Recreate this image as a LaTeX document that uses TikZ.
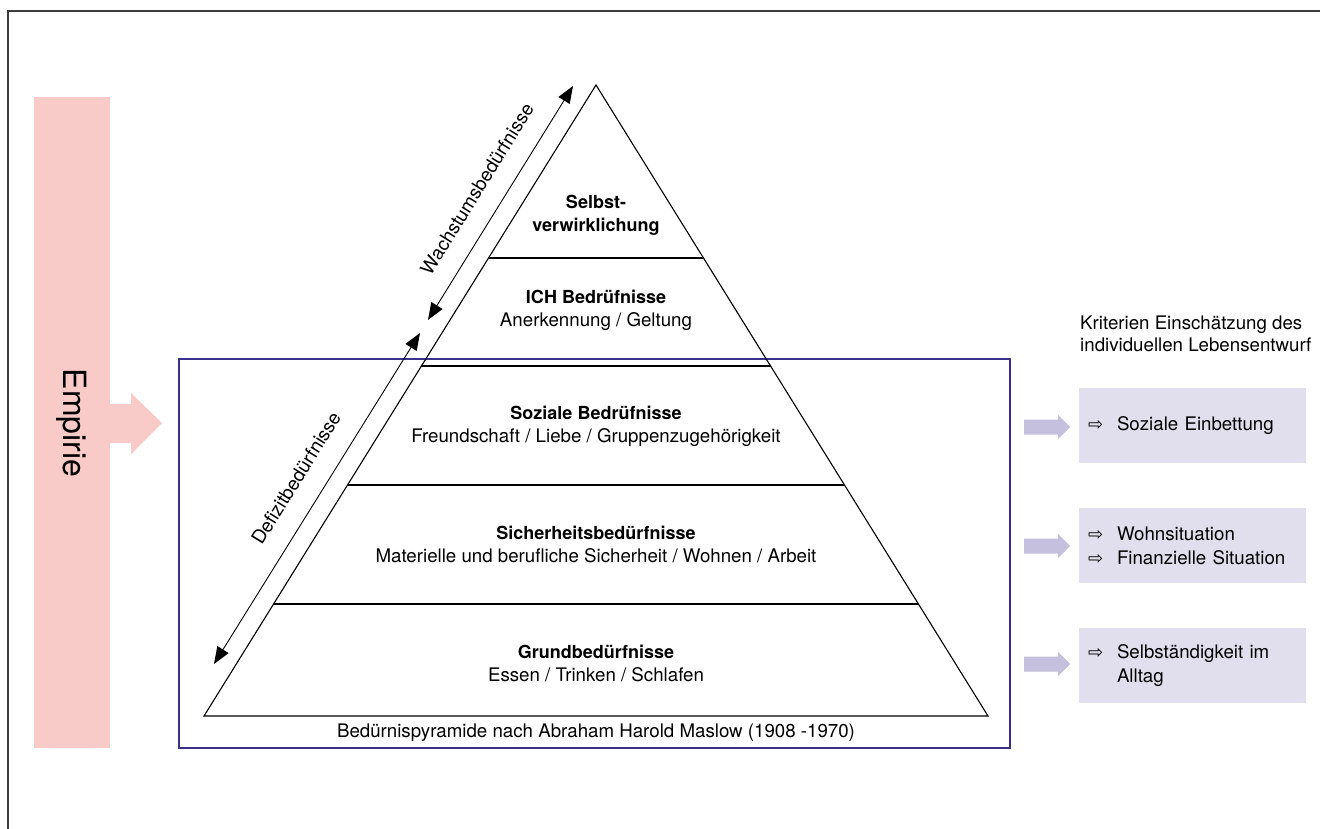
\documentclass[tikz,border=0pt]{standalone}
\usepackage{fontspec}
\setmainfont{TeX Gyre Heros}
\newfontfamily\symfont{DejaVu Sans}
\usetikzlibrary{arrows.meta,calc}
\definecolor{boxblue}{RGB}{59,47,140}
\definecolor{empink}{RGB}{248,203,200}
\definecolor{lav}{RGB}{225,223,237}
\definecolor{lavarrow}{RGB}{196,192,222}
\definecolor{framegray}{RGB}{60,60,60}
\newcommand\lvlhead[1]{{\fontsize{18}{23}\selectfont\bfseries #1}}
\newcommand\critarr{\makebox[29pt][l]{\symfont\fontsize{18}{18}\selectfont ⇨}}
\begin{document}
\begin{tikzpicture}[x=1pt,y=-1pt,
  lvl/.style={align=center, font=\fontsize{18.7}{23}\selectfont, inner sep=0pt},
  side/.style={align=left, font=\fontsize{18.7}{22}\selectfont, inner sep=0pt},
  critbox/.style={fill=lav, minimum width=227pt, minimum height=75pt, text width=209pt,
    align=left, inner xsep=9pt, inner ysep=0pt, font=\fontsize{18.7}{24}\selectfont},
  diaglabel/.style={rotate=58.2, font=\fontsize{19}{22}\selectfont, inner sep=0pt},
  dblarrow/.style={line width=0.9pt, {Triangle[length=17pt,width=13pt]}-{Triangle[length=17pt,width=13pt]}},
  pyr/.style={line width=1.1pt},
  fatarr/.pic={\fill[lavarrow] (0,-7.5) -- (34,-7.5) -- (34,-12) -- (46,0) -- (34,12) -- (34,7.5) -- (0,7.5) -- cycle;}
]
\useasboundingbox (0,0) rectangle (1320,829);
\fill[white] (0,0) rectangle (1320,829);
% frame
\draw[framegray, line width=2pt] (8,829) -- (8,11) -- (1320,11);
% Empirie bar and arrow
\fill[empink] (34,97) rectangle (110,748);
\fill[empink] (110,404) -- (131,404) -- (131,393) -- (162,423) -- (131,454) -- (131,443) -- (110,443) -- cycle;
\node[rotate=-90, font=\fontsize{32}{32}\selectfont, inner sep=0pt] (emp) at (72,423) {Empirie};
% blue box
\draw[boxblue, line width=2pt] (179,359) rectangle (1010,748);
% pyramid
\coordinate (A) at (596,85);
\coordinate (BL) at (204,716);
\coordinate (BR) at (988,716);
\draw[pyr] (A) -- (BL) -- (BR) -- cycle;
\foreach \t in {0.2742,0.4453,0.6339,0.8225}{
  \draw[pyr] ($(A)!\t!(BL)$) -- ($(A)!\t!(BR)$);
}
\node[lvl] (l5) at (596,215) {\lvlhead{Selbst-}\\\lvlhead{verwirklichung}};
\node[lvl] (l4) at (596,310) {\lvlhead{ICH Bedrüfnisse}\\Anerkennung / Geltung};
\node[lvl] (l3) at (596,426) {\lvlhead{Soziale Bedrüfnisse}\\Freundschaft / Liebe / Gruppenzugehörigkeit};
\node[lvl] (l2) at (596,544.5) {\lvlhead{Sicherheitsbedürfnisse}\\Materielle und berufliche Sicherheit / Wohnen / Arbeit};
\node[lvl] (l1) at (596,663.5) {\lvlhead{Grundbedürfnisse}\\Essen / Trinken / Schlafen};
\node[lvl] (cap) at (596,733) {Bedürnispyramide nach Abraham Harold Maslow (1908 -1970)};
% diagonal arrows
\coordinate (w1) at (573,86);
\coordinate (w2) at (428,320);
\coordinate (d1) at (420,333);
\coordinate (d2) at (214,664);
\draw[dblarrow] (w2) -- (w1);
\draw[dblarrow] (d2) -- (d1);
\node[diaglabel] (wl) at (477,189) {Wachstumsbedürfnisse};
\node[diaglabel] (dl) at (296,478) {Defizitbedürfnisse};
% right side
\node[side, anchor=west] (krit) at (1080,334) {Kriterien Einschätzung des\\individuellen Lebensentwurf};
\node[critbox] (k1) at (1192.5,425.5) {\critarr Soziale Einbettung};
\node[critbox] (k2) at (1192.5,545.5) {\critarr Wohnsituation\\\critarr Finanzielle Situation};
\node[critbox] (k3) at (1192.5,665.5) {\critarr Selbständigkeit im\\\hspace*{29pt}Alltag};
\pic at (1024,427) {fatarr};
\pic at (1024,546) {fatarr};
\pic at (1024,664) {fatarr};
\end{tikzpicture}
\end{document}
